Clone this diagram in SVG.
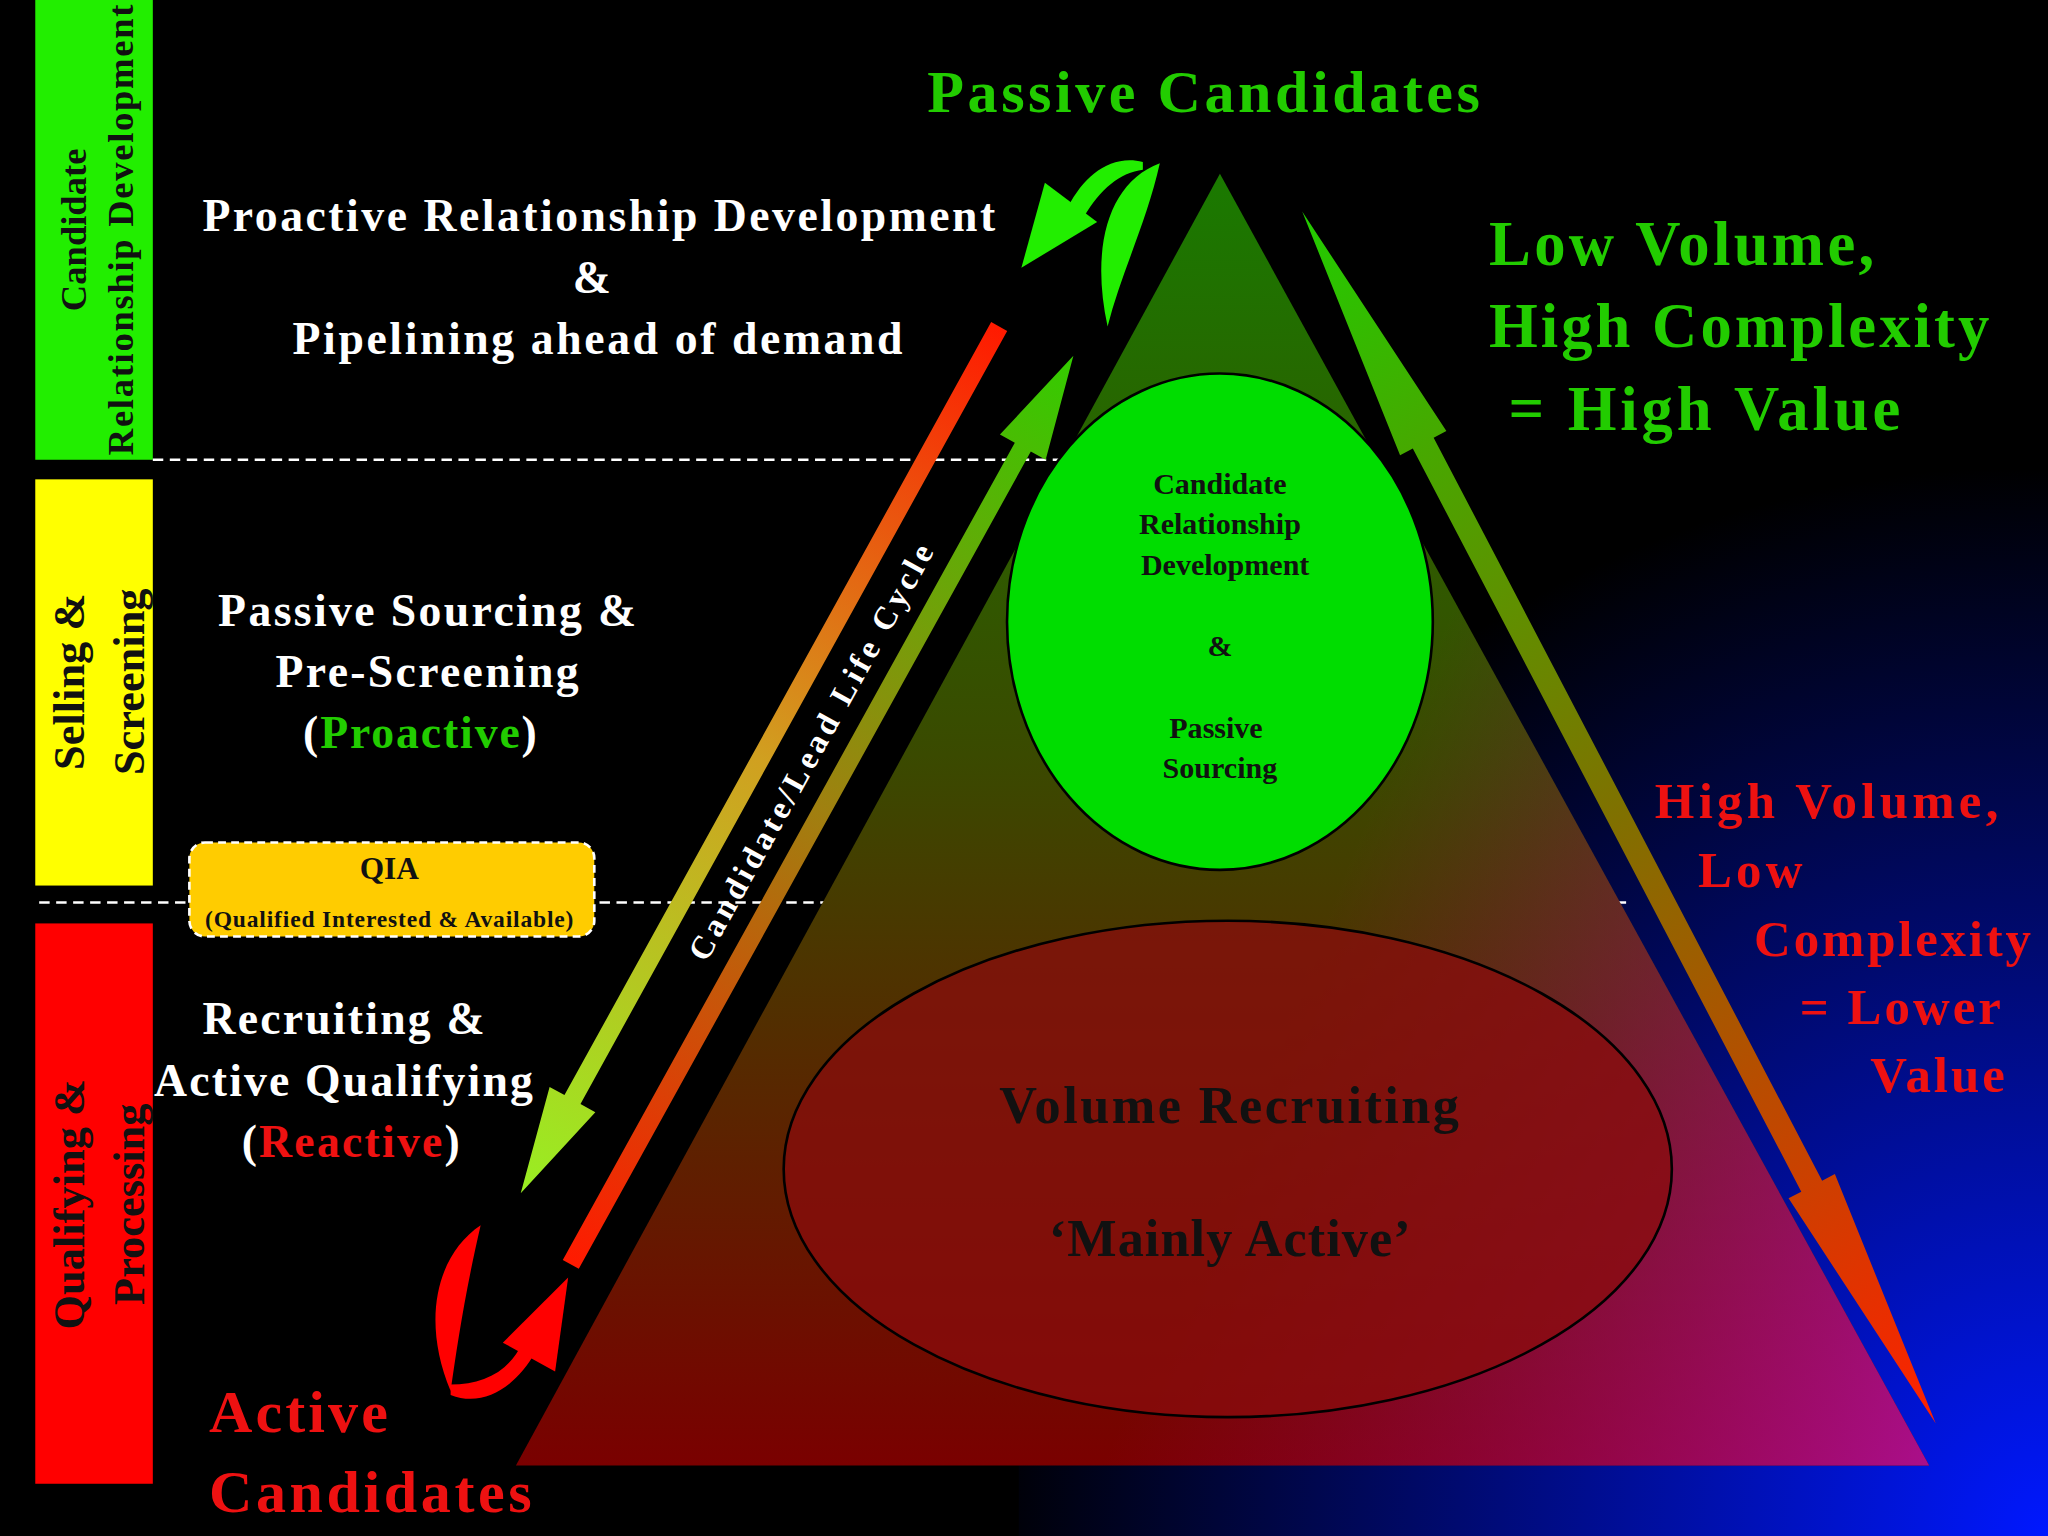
<svg xmlns="http://www.w3.org/2000/svg" width="2048" height="1536" viewBox="0 0 2048 1536">
<defs>
<style>
text{font-family:"Liberation Serif","DejaVu Serif",serif;font-weight:bold}
.w{fill:#fff}.g{fill:#22cc00}.r{fill:#ee1111}.k{fill:#111}
.dash{stroke:#fff;stroke-width:2;stroke-dasharray:8 5;fill:none}
</style>
<radialGradient id="blue" cx="1568" cy="1176" r="820" gradientUnits="userSpaceOnUse">
<stop offset="0" stop-color="#0018ff"/><stop offset="0.55" stop-color="#000a70"/><stop offset="1" stop-color="#000"/>
</radialGradient>
<linearGradient id="tri" x1="0" y1="0" x2="0" y2="1">
<stop offset="0" stop-color="#1a7a00"/><stop offset="0.45" stop-color="#3a4a00"/><stop offset="1" stop-color="#7a0000"/>
</linearGradient>
<linearGradient id="triR" x1="934" y1="900" x2="1477" y2="1122" gradientUnits="userSpaceOnUse">
<stop offset="0" stop-color="#a00060" stop-opacity="0"/><stop offset="1" stop-color="#b0109a" stop-opacity="0.9"/>
</linearGradient>
<linearGradient id="a1" x1="0" y1="0" x2="1" y2="0">
<stop offset="0" stop-color="#ff1a00"/><stop offset="0.5" stop-color="#d0a020"/><stop offset="1" stop-color="#99ee22"/>
</linearGradient>
<linearGradient id="a2" x1="0" y1="0" x2="1" y2="0">
<stop offset="0" stop-color="#ff1a00"/><stop offset="0.5" stop-color="#a08010"/><stop offset="1" stop-color="#33cc00"/>
</linearGradient>
<linearGradient id="a3" x1="0" y1="0" x2="1" y2="0">
<stop offset="0" stop-color="#22cc00"/><stop offset="0.5" stop-color="#807000"/><stop offset="1" stop-color="#ff2000"/>
</linearGradient>
</defs>
<rect width="2048" height="1536" fill="#000"/>
<g transform="scale(1.30612)">
<rect x="780" y="360" width="788" height="816" fill="url(#blue)"/>
<g id="bars">
<rect x="27" y="0" width="90" height="352" fill="#22ee00"/>
<rect x="27" y="367" width="90" height="311" fill="#ffff00"/>
<rect x="27" y="707" width="90" height="429" fill="#ff0000"/>
<text transform="translate(66,176) rotate(-90)" text-anchor="middle" font-size="28" class="k">Candidate</text>
<text transform="translate(102,176) rotate(-90)" text-anchor="middle" font-size="28" class="k" textLength="345">Relationship Development</text>
<text transform="translate(64,522) rotate(-90)" text-anchor="middle" font-size="34" class="k">Selling &amp;</text>
<text transform="translate(110,522) rotate(-90)" text-anchor="middle" font-size="34" class="k">Screening</text>
<text transform="translate(64,922) rotate(-90)" text-anchor="middle" font-size="34" class="k">Qualifying &amp;</text>
<text transform="translate(110,922) rotate(-90)" text-anchor="middle" font-size="34" class="k">Processing</text>
</g>
<line class="dash" x1="117" y1="352" x2="1050" y2="352"/>
<line class="dash" x1="30" y1="691" x2="1245" y2="691"/>
<g id="pyramid">
<polygon points="934,133 395,1122 1477,1122" fill="url(#tri)"/>
<polygon points="934,133 395,1122 1477,1122" fill="url(#triR)"/>
</g>
<g id="ellipse-top">
<ellipse cx="934" cy="476" rx="163" ry="190" fill="#00dd00" stroke="#000" stroke-width="2"/>
<g font-size="23" class="k" text-anchor="middle">
<text x="934" y="378">Candidate</text>
<text x="934" y="409">Relationship</text>
<text x="938" y="440">Development</text>
<text x="934" y="502">&amp;</text>
<text x="931" y="565">Passive</text>
<text x="934" y="596">Sourcing</text>
</g>
</g>
<g id="ellipse-bottom">
<ellipse cx="940" cy="895" rx="340" ry="190" fill="#8a0c0c" fill-opacity="0.75" stroke="#000" stroke-width="2"/>
<text x="765" y="860" font-size="40" class="k" textLength="352">Volume Recruiting</text>
<text x="803" y="962" font-size="40" class="k" textLength="277">‘Mainly Active’</text>
</g>
<g id="connectors">
<g transform="translate(765,250) rotate(118.9)">
<polygon points="0,-7 676,-7 676,-20 758,0 676,20 676,7 0,7" fill="url(#a1)"/>
</g>
<g transform="translate(437,968) rotate(-61.05)">
<polygon points="0,-7 715,-7 715,-20 795,0 715,20 715,7 0,7" fill="url(#a2)"/>
</g>
<g transform="translate(997,162) rotate(62.4)">
<polygon points="0,0 200,-20 200,-9 842,-9 842,-20 1047,0 842,20 842,9 200,9 200,20" fill="url(#a3)"/>
</g>
<path d="M848,250 C835,190 848,140 888,125 C878,170 858,210 848,250 Z" fill="#22ee00"/>
<path d="M875,124 C850,118 830,135 818,158 L830,166 C842,145 858,132 875,130 Z" fill="#22ee00"/>
<polygon points="782,205 800,140 840,170" fill="#22ee00"/>
<path d="M345,1065 C322,1010 335,960 368,938 C356,990 350,1030 345,1065 Z" fill="#ff0000"/>
<path d="M345,1068 C370,1078 395,1062 410,1035 L400,1028 C390,1050 370,1060 345,1060 Z" fill="#ff0000"/>
<polygon points="435,978 385,1028 425,1050" fill="#ff0000"/>
<text transform="translate(628,580) rotate(-61)" text-anchor="middle" font-size="25" class="w" textLength="360">Candidate/Lead Life Cycle</text>
</g>
<g id="qia">
<rect x="145" y="645" width="310" height="72" rx="12" fill="#ffcc00" stroke="#fff" stroke-width="2" stroke-dasharray="6 4"/>
<text x="298" y="673" font-size="24" text-anchor="middle" class="k">QIA</text>
<text x="157" y="710" font-size="18" class="k" font-weight="normal" textLength="282">(Qualified Interested &amp; Available)</text>
</g>
<g id="labels">
<text x="710" y="86" font-size="46" class="g" textLength="423">Passive Candidates</text>
<g font-size="48" class="g">
<text x="1140" y="203" textLength="295">Low Volume,</text>
<text x="1140" y="266" textLength="383">High Complexity</text>
<text x="1155" y="329" textLength="300">= High Value</text>
</g>
<g font-size="39" class="r">
<text x="1267" y="626" textLength="263">High Volume,</text>
<text x="1300" y="679" textLength="80">Low</text>
<text x="1343" y="732" textLength="212">Complexity</text>
<text x="1378" y="784" textLength="154">= Lower</text>
<text x="1432" y="836" textLength="103">Value</text>
</g>
<text x="160" y="1096" font-size="46" class="r" textLength="137">Active</text>
<text x="160" y="1158" font-size="46" class="r" textLength="247">Candidates</text>
<g font-size="35" class="w">
<text x="155" y="177" textLength="607">Proactive Relationship Development</text>
<text x="453" y="224" text-anchor="middle">&amp;</text>
<text x="224" y="271" textLength="467">Pipelining ahead of demand</text>
<text x="167" y="479" textLength="320">Passive Sourcing &amp;</text>
<text x="211" y="526" textLength="232">Pre-Screening</text>
<text x="232" y="573" textLength="179">(<tspan class="g">Proactive</tspan>)</text>
<text x="155" y="792" textLength="216">Recruiting &amp;</text>
<text x="118" y="839" textLength="290">Active Qualifying</text>
<text x="185" y="886" textLength="167">(<tspan class="r">Reactive</tspan>)</text>
</g>
</g>
</g>
</svg>
